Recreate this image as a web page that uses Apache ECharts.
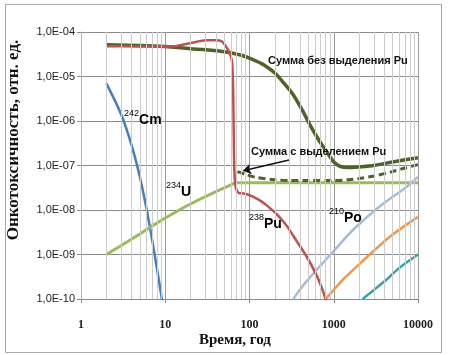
<!DOCTYPE html>
<html>
<head>
<meta charset="utf-8">
<script src="https://cdn.jsdelivr.net/npm/echarts@6/dist/echarts.min.js"></script>
<style>
  html, body { margin: 0; padding: 0; background: #fff; }
  #chart { width: 452px; height: 355px; }
</style>
</head>
<body>
<div id="chart"></div>
<script>
// данные (время, лет / онкотоксичность)
var cm242 = [[2, 7e-6], [3, 1.4e-6], [4, 2.8e-7], [5, 5.5e-8], [6, 1.05e-8], [7, 2.1e-9], [8, 4.6e-10], [9, 1.15e-10], [9.5, 5e-11]];
var u234 = [[2, 1e-9], [3, 1.6e-9], [5, 2.9e-9], [7, 4.4e-9], [10, 6.6e-9], [17, 1.17e-8], [25, 1.7e-8], [40, 2.6e-8], [55, 3.4e-8], [68, 4.1e-8], [100, 4.1e-8], [1000, 4.1e-8], [10000, 4.1e-8]];
var pu238 = [[2, 4.8e-5], [5, 4.75e-5], [10, 4.7e-5], [13, 4.8e-5], [17, 5.3e-5], [22, 5.9e-5], [30, 6.5e-5], [40, 6.5e-5], [47, 6.1e-5], [53, 4.6e-5], [58, 3.4e-5], [62, 2.2e-5], [64, 5e-6], [65, 5e-7], [66, 8e-8], [68, 3.6e-8], [71, 2.7e-8], [75, 2.4e-8], [85, 2.35e-8], [100, 2.15e-8], [125, 1.75e-8], [150, 1.4e-8], [175, 1.1e-8], [220, 7.4e-9], [277, 4.4e-9], [363, 2e-9], [478, 8.9e-10], [626, 3.4e-10], [720, 1.8e-10], [800, 1e-10], [840, 7e-11]];
var po210 = [[330, 1e-10], [450, 2.2e-10], [626, 4.5e-10], [1000, 1.2e-9], [1700, 3.6e-9], [3500, 1.2e-8], [7300, 3.3e-8], [10000, 5.5e-8]];
var orangeNuc = [[800, 1e-10], [1000, 1.6e-10], [1300, 2.8e-10], [1700, 4.5e-10], [2900, 1.15e-9], [5000, 2.8e-9], [10000, 7e-9]];
var tealNuc = [[2200, 1e-10], [3000, 1.6e-10], [4200, 2.7e-10], [6000, 5e-10], [10000, 1e-9]];
var sumNoPu = [[2, 5.2e-5], [5, 5e-5], [10, 4.7e-5], [20, 4.2e-5], [30, 4e-5], [50, 3.6e-5], [80, 3e-5], [115, 2.3e-5], [150, 1.8e-5], [200, 1.2e-5], [250, 7.5e-6], [330, 3.9e-6], [420, 1.8e-6], [520, 8.3e-7], [650, 4e-7], [830, 2e-7], [1000, 1.2e-7], [1200, 9.5e-8], [1500, 9e-8], [2000, 9.3e-8], [3000, 1e-7], [5000, 1.2e-7], [10000, 1.5e-7]];
var sumWithPu = [[72, 7.3e-8], [90, 6.3e-8], [120, 5.4e-8], [200, 4.8e-8], [300, 4.6e-8], [500, 4.6e-8], [1000, 4.6e-8], [1500, 4.8e-8], [2000, 5.1e-8], [3000, 5.8e-8], [5000, 7.3e-8], [7000, 8.8e-8], [10000, 1.05e-7]];

var xTickLabels = ['1', '10', '100', '1000', '10000'];
var yTickLabels = ['1,0E-10', '1,0E-09', '1,0E-08', '1,0E-07', '1,0E-06', '1,0E-05', '1,0E-04'];

// промежуточные вертикальные линии сетки (2..9 в каждой декаде)
var minorX = [];
for (var d = 1; d < 10000; d *= 10) {
    for (var k = 2; k <= 9; k++) {
        minorX.push({ xAxis: k * d });
    }
}

var chart = echarts.init(document.getElementById('chart'));

function nuc(sup, name) {
    return '{s|' + sup + '}{b|' + name + '}';
}
var nucRich = {
    s: { fontSize: 9, fontFamily: 'Liberation Sans', color: '#111', verticalAlign: 'top', lineHeight: 10 },
    b: { fontSize: 14, fontFamily: 'Liberation Sans', fontWeight: 'bold', color: '#111', verticalAlign: 'bottom', lineHeight: 18 }
};
function nucLabel(x, y, sup, name) {
    return { type: 'text', left: x, top: y, z: 10, style: { text: nuc(sup, name), rich: nucRich } };
}

var option = {
    animation: false,
    backgroundColor: '#fff',
    grid: { left: 81, right: 34, top: 32, bottom: 56 },
    xAxis: {
        type: 'log', logBase: 10, min: 1, max: 10000, splitNumber: 4,
        axisLine: { show: true, lineStyle: { color: '#8a8a8a' } },
        axisTick: { show: true, length: 4, lineStyle: { color: '#8a8a8a' } },
        splitLine: { show: true, lineStyle: { color: '#9a9a9a', width: 1 } },
        axisLabel: {
            margin: 20, color: '#222', fontSize: 12, fontWeight: 'bold', fontFamily: 'Liberation Serif',
            formatter: function (v) { return xTickLabels[Math.round(Math.log10(v))]; }
        }
    },
    yAxis: {
        type: 'log', logBase: 10, min: 1e-10, max: 1e-4, splitNumber: 6,
        axisLine: { show: true, lineStyle: { color: '#b0b0b0' } },
        axisTick: { show: true, length: 4, lineStyle: { color: '#8a8a8a' } },
        splitLine: { show: true, lineStyle: { color: '#8a8a8a', width: 1 } },
        axisLabel: {
            margin: 6, color: '#222', fontSize: 11, fontFamily: 'Liberation Sans',
            formatter: function (v) { return yTickLabels[Math.round(Math.log10(v)) + 10]; }
        }
    },
    series: [
        {
            name: 'grid', type: 'line', data: [[1, 1e-10]], symbol: 'none', z: 1, silent: true,
            lineStyle: { width: 0 },
            markLine: {
                silent: true, symbol: 'none', label: { show: false },
                lineStyle: { color: '#cccccc', width: 1, type: 'solid' },
                data: minorX
            }
        },
        { name: '242Cm', type: 'line', data: cm242, symbol: 'none', smooth: 0.3, lineStyle: { color: '#4a7ebb', width: 2.5 } },
        { name: '234U', type: 'line', data: u234, symbol: 'none', lineStyle: { color: '#9bbb59', width: 3 } },
        { name: '210Po', type: 'line', data: po210, symbol: 'none', smooth: 0.3, lineStyle: { color: '#a4bcdc', width: 2.5 } },
        { name: 'orange', type: 'line', data: orangeNuc, symbol: 'none', smooth: 0.3, lineStyle: { color: '#f79646', width: 2.5 } },
        { name: 'teal', type: 'line', data: tealNuc, symbol: 'none', smooth: 0.3, lineStyle: { color: '#2fa3ad', width: 2.5 } },
        { name: 'Сумма без выделения Pu', type: 'line', data: sumNoPu, symbol: 'none', smooth: 0.3, lineStyle: { color: '#4f6228', width: 3.5 } },
        { name: '238Pu', type: 'line', data: pu238, symbol: 'none', smooth: 0.2, lineStyle: { color: '#c0504d', width: 2.5 } },
        {
            name: 'Сумма с выделением Pu', type: 'line', data: sumWithPu, symbol: 'none', smooth: 0.3,
            lineStyle: { color: '#4f6228', width: 3, type: [7, 4] },
            markLine: {
                silent: true, label: { show: false },
                symbol: ['none', 'arrow'], symbolSize: 8,
                lineStyle: { color: '#111', width: 1.5, type: 'solid' },
                data: [[{ coord: [294, 1.33e-7] }, { coord: [84, 7.6e-8] }]]
            }
        }
    ],
    graphic: [
        { type: 'rect', left: 3, top: 2, z: -1, silent: true, shape: { width: 436, height: 348 }, style: { fill: 'none', stroke: '#a8a8a8', lineWidth: 1 } },
        {
            type: 'text', z: 10, top: 333, left: 199,
            style: { text: 'Время, год', font: 'bold 15px "Liberation Serif"', fill: '#111' }
        },
        {
            type: 'text', x: 14, y: 140, rotation: Math.PI / 2, z: 10,
            style: { text: 'Онкотоксичность, отн. ед.', font: 'bold 17px "Liberation Serif"', fill: '#111', align: 'center', verticalAlign: 'middle' }
        },
        nucLabel(124, 109, '242', 'Cm'),
        nucLabel(166, 181, '234', 'U'),
        nucLabel(249, 213, '238', 'Pu'),
        nucLabel(329, 207, '210', 'Po'),
        { type: 'text', left: 268, top: 55, z: 10, style: { text: 'Сумма без выделения Pu', font: 'bold 11px "Liberation Sans"', fill: '#111' } },
        { type: 'text', left: 251, top: 146, z: 10, style: { text: 'Сумма с выделением Pu', font: 'bold 11px "Liberation Sans"', fill: '#111' } }
    ]
};
chart.setOption(option);
</script>
</body>
</html>
